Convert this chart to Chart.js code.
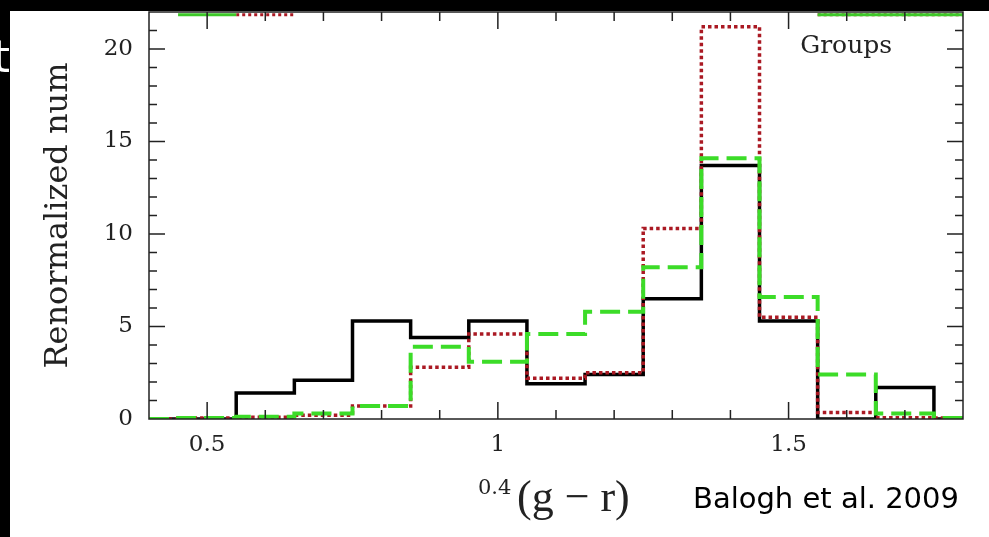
<!DOCTYPE html>
<html>
<head>
<meta charset="utf-8">
<script src="https://cdn.jsdelivr.net/npm/chart.js@4.4.0/dist/chart.umd.min.js"></script>
<style>
  html, body { margin: 0; padding: 0; background: #000; }
  #wrap { position: relative; width: 989px; height: 537px; }
</style>
</head>
<body>
<div id="wrap"><canvas id="hist" width="989" height="537"></canvas></div>
<script>
// bin centres, bins are 0.1 wide
const binCentres  = [0.4, 0.5, 0.6, 0.7, 0.8, 0.9, 1.0, 1.1, 1.2, 1.3, 1.4, 1.5, 1.6, 1.7, 1.8];
const blackCounts = [0, 0, 1.4, 2.1, 5.3, 4.4, 5.3, 1.9, 2.4, 6.5, 13.7, 5.3, 0, 1.7, 0];
const redCounts   = [0, 0.05, 0.1, 0.2, 0.7, 2.8, 4.6, 2.2, 2.5, 10.3, 21.2, 5.5, 0.35, 0.07, 0.05];
const greenCounts = [0, 0.05, 0.12, 0.3, 0.7, 3.9, 3.1, 4.6, 5.8, 8.2, 14.1, 6.6, 2.4, 0.3, 0.05];

const xMajorTicks = [0.5, 1, 1.5];
const yMajorTicks = [0, 5, 10, 15, 20];
const xMinorStep = 0.1;
const yMinorStep = 1;

// what is left of the panel above, cut at the top edge
const topGreenX = [0.45, 0.55, null, 1.55, 1.8];
const topRedX   = [0.55, 0.65, null, 1.55, 1.8];
const topLevel  = 21.85;

const serif = '"DejaVu Serif", serif';
const ink = '#222';

const toPoints = (xs, ys) => xs.map((x, i) => ({ x: x, y: ys[i] }));
const topPoints = xs => xs.map(x => x === null ? { x: 1.2, y: null } : { x: x, y: topLevel });
const noPad = s => { s.paddingTop = 0; s.paddingBottom = 0; s.paddingLeft = 0; s.paddingRight = 0; };

const frame = {
    id: 'frame',
    beforeDraw(chart) {
        const c = chart.ctx;
        c.save();
        c.fillStyle = '#fff';
        c.fillRect(0, 0, chart.width, chart.height);
        c.fillStyle = '#000';
        c.fillRect(0, 0, chart.width, 11);
        c.fillRect(0, 0, 10, chart.height);
        c.fillStyle = '#fff';
        c.font = '44px "DejaVu Sans"';
        c.textAlign = 'right';
        c.fillText('t', 10, 72);
        c.restore();
    },
    afterDraw(chart) {
        const { ctx: c, chartArea: a, scales: { x, y } } = chart;
        c.save();
        c.strokeStyle = ink;
        c.lineWidth = 1.5;
        c.strokeRect(a.left, a.top, a.right - a.left, a.bottom - a.top);
        c.beginPath();
        for (let v = x.min + xMinorStep; v < x.max - 1e-6; v += xMinorStep) {
            const px = x.getPixelForValue(v);
            const len = xMajorTicks.some(m => Math.abs(m - v) < 1e-6) ? 17 : 9;
            c.moveTo(px, a.bottom); c.lineTo(px, a.bottom - len);
            c.moveTo(px, a.top); c.lineTo(px, a.top + len);
        }
        for (let v = y.min + yMinorStep; v < y.max - 1e-6; v += yMinorStep) {
            const py = y.getPixelForValue(v);
            const len = yMajorTicks.includes(Math.round(v)) ? 16 : 8;
            c.moveTo(a.left, py); c.lineTo(a.left + len, py);
            c.moveTo(a.right, py); c.lineTo(a.right - len, py);
        }
        c.stroke();

        c.fillStyle = ink;
        c.textBaseline = 'alphabetic';
        c.textAlign = 'left';
        c.font = '25px ' + serif;
        c.fillText('Groups', x.getPixelForValue(1.52), y.getPixelForValue(19.8));

        // x axis label with superscript
        c.font = '21px ' + serif;
        c.fillText('0.4', 478, 494);
        c.font = '44px "Liberation Serif", serif';
        c.fillText('(g \u2212 r)', 517, 511);

        c.fillStyle = '#000';
        c.font = '29px "DejaVu Sans", sans-serif';
        c.fillText('Balogh et al. 2009', 693, 508);
        c.restore();
    }
};

new Chart(document.getElementById('hist'), {
    type: 'line',
    data: {
        datasets: [
            { data: toPoints(binCentres, greenCounts), borderColor: 'rgb(60, 220, 40)', borderWidth: 4, borderDash: [20, 8], stepped: 'middle', pointRadius: 0, order: 1 },
            { data: toPoints(binCentres, redCounts), borderColor: 'rgb(170, 25, 35)', borderWidth: 3.5, borderDash: [3.5, 3], stepped: 'middle', pointRadius: 0, order: 2 },
            { data: toPoints(binCentres, blackCounts), borderColor: '#000', borderWidth: 3.5, stepped: 'middle', pointRadius: 0, order: 3 },
            { data: topPoints(topGreenX), borderColor: 'rgb(60, 200, 40)', borderWidth: 3, pointRadius: 0, spanGaps: false, order: 4 },
            { data: topPoints(topRedX), borderColor: 'rgb(170, 25, 35)', borderWidth: 3, borderDash: [3, 3], pointRadius: 0, spanGaps: false, order: 5 }
        ]
    },
    options: {
        responsive: false,
        animation: false,
        layout: { padding: { left: 0, top: 12, right: 26, bottom: 0 } },
        elements: { line: { borderJoinStyle: 'miter', borderCapStyle: 'butt', tension: 0 } },
        plugins: { legend: { display: false }, tooltip: { enabled: false } },
        scales: {
            x: {
                type: 'linear', min: 0.4, max: 1.8,
                grid: { display: false, drawTicks: false },
                border: { display: false },
                afterBuildTicks: s => { s.ticks = xMajorTicks.map(v => ({ value: v })); },
                afterFit: s => { s.height = 118; noPad(s); },
                ticks: { padding: 12, color: ink, font: { family: serif, size: 23 }, callback: v => String(v) }
            },
            y: {
                min: 0, max: 22,
                grid: { display: false, drawTicks: false },
                border: { display: false },
                afterBuildTicks: s => { s.ticks = yMajorTicks.map(v => ({ value: v })); },
                afterFit: s => { s.width = 149; noPad(s); },
                ticks: { padding: 16, color: ink, font: { family: serif, size: 23 }, callback: v => String(v) },
                title: { display: true, text: 'Renormalized num', color: ink, font: { family: serif, size: 32, weight: 'normal' }, padding: { top: 39, bottom: 0 } }
            }
        }
    },
    plugins: [frame]
});
</script>
</body>
</html>
